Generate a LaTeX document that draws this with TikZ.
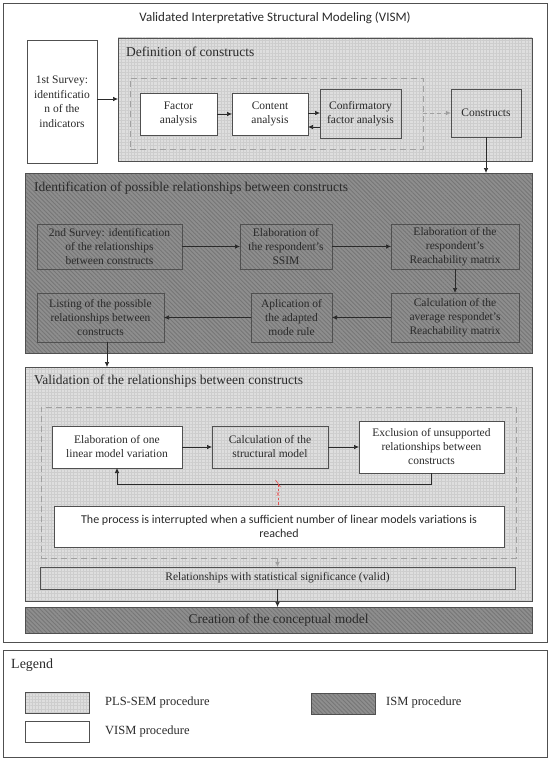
\documentclass[tikz,border=0pt]{standalone}
\usepackage{fontspec}
\setmainfont{Liberation Serif}
\newfontfamily\calfont{Carlito}
\usetikzlibrary{arrows.meta,patterns.meta,calc}
\definecolor{plsgray}{HTML}{DEDEDE}
\definecolor{plsgrid}{HTML}{CDCDCD}
\definecolor{ismgray}{HTML}{8E8E8E}
\definecolor{ismline}{HTML}{767676}
\definecolor{edge}{HTML}{505050}
\definecolor{txt}{HTML}{2A2A2A}
\definecolor{dashgray}{HTML}{A0A0A0}
\definecolor{redx}{HTML}{E05050}
\tikzset{
  plsfill/.style={preaction={fill=plsgray}, preaction={pattern color=plsgrid, pattern={Hatch[distance=3.2pt,line width=0.3pt]}}},
  ismfill/.style={preaction={fill=ismgray}, preaction={pattern color=ismline, pattern={Lines[angle=-45,distance=3pt,line width=0.9pt]}}},
  frame/.style={draw=edge, line width=0.8pt, inner sep=0pt, outer sep=0pt},
  boxtxt/.style={text=txt, font=\fontsize{11.5}{14}\selectfont, align=center},
  whitebox/.style={frame, fill=white, boxtxt},
  plsbox/.style={frame, plsfill, boxtxt},
  ismbox/.style={frame, ismfill, boxtxt},
  paneltitle/.style={anchor=west, text=txt, font=\fontsize{13.5}{16}\selectfont, inner sep=0pt},
  arr/.style={draw=txt, line width=0.7pt, -{Latex[length=5pt,width=4.5pt]}},
  garr/.style={draw=dashgray, line width=0.8pt, dash pattern=on 4pt off 3pt, -{Latex[length=5pt,width=4.5pt]}},
  dashrect/.style={draw=dashgray, line width=0.8pt, dash pattern=on 6pt off 4pt, inner sep=0pt},
  legtxt/.style={anchor=west, text=txt, font=\fontsize{12.5}{15}\selectfont, inner sep=0pt}
}
\begin{document}
\begin{tikzpicture}[x=1pt,y=-1pt]
\useasboundingbox (0,0) rectangle (550,760);
\fill[white] (0,0) rectangle (550,760);
% outer frames
\node[frame, fill=white, minimum width=544pt, minimum height=639pt] (outer) at (275,322.5) {};
\node[frame, fill=white, minimum width=544pt, minimum height=107pt] (legend) at (275,703.5) {};
\node[text=txt, font=\calfont\fontsize{13}{15}\selectfont] (title) at (275,18) {Validated Interpretative Structural Modeling (VISM)};

% first survey
\node[whitebox, minimum width=70pt, minimum height=123pt, font=\fontsize{11.5}{14.5}\selectfont] (survey1) at (62,101.5) {1st Survey:\\identificatio\\n of the\\indicators};

% definition panel
\node[frame, plsfill, minimum width=414pt, minimum height=123pt] (defpanel) at (325,99.5) {};
\node[paneltitle] (deftitle) at (126,52) {Definition of constructs};
\node[dashrect, minimum width=293pt, minimum height=71pt] (dash1) at (276.5,113.5) {};
\node[whitebox, minimum width=77pt, minimum height=42pt] (fa) at (178.5,114) {Factor\\analysis};
\node[whitebox, minimum width=76pt, minimum height=42pt] (ca) at (270,114) {Content\\analysis};
\node[plsbox, minimum width=81pt, minimum height=49pt] (cfa) at (360.5,113.5) {Confirmatory\\factor analysis};
\node[plsbox, minimum width=70pt, minimum height=48pt] (cons) at (486,113) {Constructs};

% ISM panel
\node[frame, ismfill, minimum width=507pt, minimum height=180pt] (ismpanel) at (278.5,263) {};
\node[paneltitle] (ismtitle) at (34,188) {Identification of possible relationships between constructs};
\node[ismbox, minimum width=145pt, minimum height=45pt] (s2) at (109.5,246.5) {2nd Survey: identification\\of the relationships\\between constructs};
\node[ismbox, minimum width=92pt, minimum height=45pt] (ssim) at (286,246.5) {Elaboration of\\the respondent's\\SSIM};
\node[ismbox, minimum width=128pt, minimum height=45pt] (reach) at (455,246.5) {Elaboration of the\\respondent's\\Reachability matrix};
\node[ismbox, minimum width=127pt, minimum height=49pt] (list) at (100.5,317.5) {Listing of the possible\\relationships between\\constructs};
\node[ismbox, minimum width=81pt, minimum height=49pt] (apl) at (291.5,317.5) {Aplication of\\the adapted\\mode rule};
\node[ismbox, minimum width=128pt, minimum height=49pt] (calc) at (455,317.5) {Calculation of the\\average respondet's\\Reachability matrix};

% validation panel
\node[frame, plsfill, minimum width=507pt, minimum height=234pt] (valpanel) at (278.5,484) {};
\node[paneltitle] (valtitle) at (34,381) {Validation of the relationships between constructs};
\node[dashrect, minimum width=475pt, minimum height=151pt] (dash2) at (278.5,482.5) {};
\node[whitebox, minimum width=130pt, minimum height=42pt] (elab) at (117,447) {Elaboration of one\\linear model variation};
\node[plsbox, minimum width=116pt, minimum height=42pt] (struct) at (270,447) {Calculation of the\\structural model};
\node[whitebox, minimum width=145pt, minimum height=52pt] (excl) at (431.5,447) {Exclusion of unsupported\\relationships between\\constructs};
\node[whitebox, minimum width=450pt, minimum height=41pt, font=\calfont\fontsize{12}{14.5}\selectfont] (interr) at (279,526.5) {The process is interrupted when a sufficient number of linear models variations is\\reached};
\node[plsbox, minimum width=475pt, minimum height=22pt] (rel) at (277.5,578) {Relationships with statistical significance (valid)};

% creation
\node[frame, ismfill, minimum width=507pt, minimum height=26pt, text=txt, font=\fontsize{13.5}{16}\selectfont] (creation) at (278.5,620) {Creation of the conceptual model};

% connectors
\draw[arr] (survey1.east |- 0,99) -- (defpanel.west |- 0,99);
\draw[arr] (fa.east) -- (ca.west);
\draw[arr] (ca.east |- 0,113) -- (cfa.west |- 0,113);
\draw[arr] (cfa.west |- 0,127) -- (ca.east |- 0,127);
\draw[garr] (dash1.east |- 0,113) -- (cons.west |- 0,113);
\draw[arr] (cons.south) -- (cons.south |- ismpanel.north);
\draw[arr] (s2.east) -- (ssim.west);
\draw[arr] (ssim.east) -- (reach.west);
\draw[arr] (reach.south) -- (calc.north);
\draw[arr] (calc.west) -- (apl.east);
\draw[arr] (apl.west) -- (list.east);
\draw[arr] (list.south -| 107,0) -- (valpanel.north -| 107,0);
\draw[arr] (elab.east) -- (struct.west);
\draw[arr] (struct.east) -- (excl.west);
\coordinate (loopl) at (278,484);
\draw[arr] (excl.south) -- (excl.south |- loopl) -| (elab.south);
\draw[redx, line width=0.6pt, dash pattern=on 2.5pt off 2pt] (loopl) -- (loopl |- interr.north);
\draw[redx, line width=0.6pt] ($(loopl)+(-2.5,-4)$) -- ($(loopl)+(2.5,3)$);
\node[text=redx, font=\calfont\fontsize{8}{9}\selectfont, fill=plsgray, inner sep=0.5pt] (xmark) at (278,495) {x};
\draw[draw=dashgray, line width=0.8pt, -{Latex[length=5pt,width=4.5pt]}] (dash2.south -| rel.north) -- (rel.north);
\draw[arr] (rel.south) -- (rel.south |- creation.north);

% legend
\node[legtxt, font=\fontsize{14}{16}\selectfont] (legtitle) at (11,665) {Legend};
\node[frame, plsfill, minimum width=64pt, minimum height=21pt] (swpls) at (57,702.5) {};
\node[legtxt] (lpls) at (105,702) {PLS-SEM procedure};
\node[frame, fill=white, minimum width=64pt, minimum height=21pt] (swvism) at (57,731.5) {};
\node[legtxt] (lvism) at (105,731) {VISM procedure};
\node[frame, ismfill, minimum width=64pt, minimum height=21pt] (swism) at (343,703.5) {};
\node[legtxt] (lism) at (386,702) {ISM procedure};
\end{tikzpicture}
\end{document}
